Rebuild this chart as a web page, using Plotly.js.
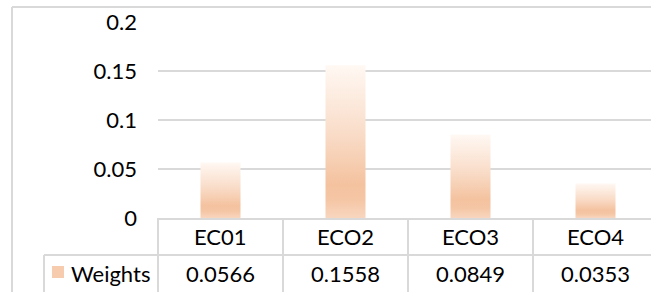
<!DOCTYPE html>
<html>
<head>
<meta charset="utf-8">
<script src="https://cdn.plot.ly/plotly-3.0.1.min.js"></script>
<style>
html,body{margin:0;padding:0;overflow:hidden;background:#fff;}
#chart{width:700px;height:292px;}
</style>
</head>
<body>
<div id="chart"></div>
<script>
// ---- data ----
const categories = ["EC01", "ECO2", "ECO3", "ECO4"];
const weights = [0.0566, 0.1558, 0.0849, 0.0353];
const valueLabels = ["0.0566", "0.1558", "0.0849", "0.0353"];
const seriesName = "Weights";
const yTickVals = [0, 0.05, 0.1, 0.15, 0.2];
const yTickText = ["0", "0.05", "0.1", "0.15", "0.2"];

const FONT = "Lato, 'Open Sans', sans-serif";
const FS = 22;
const GRID = "#D9D9D9";
const TXT = "#000000";

const trace = {
  type: "bar",
  x: categories,
  y: weights,
  name: seriesName,
  width: 0.32,
  marker: {color: "#F4C29F", line: {width: 0}},
  hoverinfo: "none"
};

const tableCatY = -0.094;
const tableValY = -0.282;

const annotations = [];
categories.forEach((c, i) => {
  annotations.push({x: c, xref: "x", y: tableCatY, yref: "paper", text: c, showarrow: false,
    xanchor: "center", yanchor: "middle", font: {family: FONT, size: FS, color: TXT}});
  annotations.push({x: c, xref: "x", y: tableValY, yref: "paper", text: valueLabels[i], showarrow: false,
    xanchor: "center", yanchor: "middle", font: {family: FONT, size: FS, color: TXT}});
});
annotations.push({x: -0.095, xref: "paper", y: tableValY, yref: "paper", text: seriesName, showarrow: false,
  xanchor: "center", yanchor: "middle", font: {family: FONT, size: FS, color: TXT}});

const lineStyle = {color: GRID, width: 2};
const shapes = [
  {type: "line", xref: "paper", yref: "paper", x0: -0.292, x1: -0.292, y0: -0.6, y1: 1.0765, line: lineStyle},
  {type: "line", xref: "paper", yref: "paper", x0: -0.292, x1: 1.2, y0: 1.0765, y1: 1.0765, line: lineStyle},
  {type: "line", xref: "paper", yref: "paper", x0: -0.228, x1: 1.0, y0: -0.189, y1: -0.189, line: lineStyle},
  {type: "line", xref: "paper", yref: "paper", x0: -0.228, x1: -0.228, y0: -0.189, y1: -0.6, line: lineStyle},
  {type: "line", xref: "paper", yref: "paper", x0: 0, x1: 0, y0: 0, y1: -0.6, line: lineStyle},
  {type: "rect", xref: "paper", yref: "paper", x0: -0.212, x1: -0.188, y0: -0.245, y1: -0.306,
    fillcolor: "#F6CBAE", line: {width: 0}}
];
for (let i = 0; i < categories.length - 1; i++) {
  shapes.push({type: "line", xref: "x", yref: "paper", x0: i + 0.5, x1: i + 0.5, y0: 0, y1: -0.6, line: lineStyle});
}

const layout = {
  width: 700,
  height: 292,
  margin: {l: 158, r: 42, t: 22, b: 74},
  paper_bgcolor: "#ffffff",
  plot_bgcolor: "#ffffff",
  showlegend: false,
  font: {family: FONT, size: FS, color: TXT},
  xaxis: {
    type: "category",
    range: [-0.5, 3.5],
    showticklabels: false,
    ticks: "",
    showgrid: false,
    zeroline: false,
    showline: true,
    linecolor: GRID,
    linewidth: 2,
    fixedrange: true
  },
  yaxis: {
    range: [0, 0.2],
    tickvals: yTickVals,
    ticktext: yTickText,
    ticks: "",
    ticklabelstandoff: 20,
    showgrid: true,
    gridcolor: GRID,
    gridwidth: 2,
    zeroline: false,
    showline: false,
    tickfont: {family: FONT, size: FS, color: TXT},
    fixedrange: true
  },
  annotations: annotations,
  shapes: shapes
};

function applyGradient(gd) {
  const svg = gd.querySelector("svg.main-svg");
  if (!svg) return;
  let defs = svg.querySelector("defs");
  if (!defs) {
    defs = document.createElementNS("http://www.w3.org/2000/svg", "defs");
    svg.insertBefore(defs, svg.firstChild);
  }
  if (!svg.querySelector("#barGrad")) {
    const g = document.createElementNS("http://www.w3.org/2000/svg", "linearGradient");
    g.setAttribute("id", "barGrad");
    g.setAttribute("x1", "0"); g.setAttribute("y1", "0");
    g.setAttribute("x2", "0"); g.setAttribute("y2", "1");
    [["0", "#FFF8F3"], ["0.45", "#F9DCC8"], ["0.78", "#F4C29F"], ["0.88", "#F5C6A5"], ["1", "#F8D6BF"]].forEach(s => {
      const st = document.createElementNS("http://www.w3.org/2000/svg", "stop");
      st.setAttribute("offset", s[0]);
      st.setAttribute("stop-color", s[1]);
      g.appendChild(st);
    });
    defs.appendChild(g);
  }
  gd.querySelectorAll(".trace.bars .point path").forEach(p => {
    p.style.fill = "url(#barGrad)";
    p.style.fillOpacity = "1";
  });
}

const gd = document.getElementById("chart");
Plotly.newPlot(gd, [trace], layout, {displayModeBar: false, staticPlot: true}).then(() => {
  applyGradient(gd);
  gd.on && gd.on("plotly_afterplot", () => applyGradient(gd));
});
</script>
</body>
</html>
